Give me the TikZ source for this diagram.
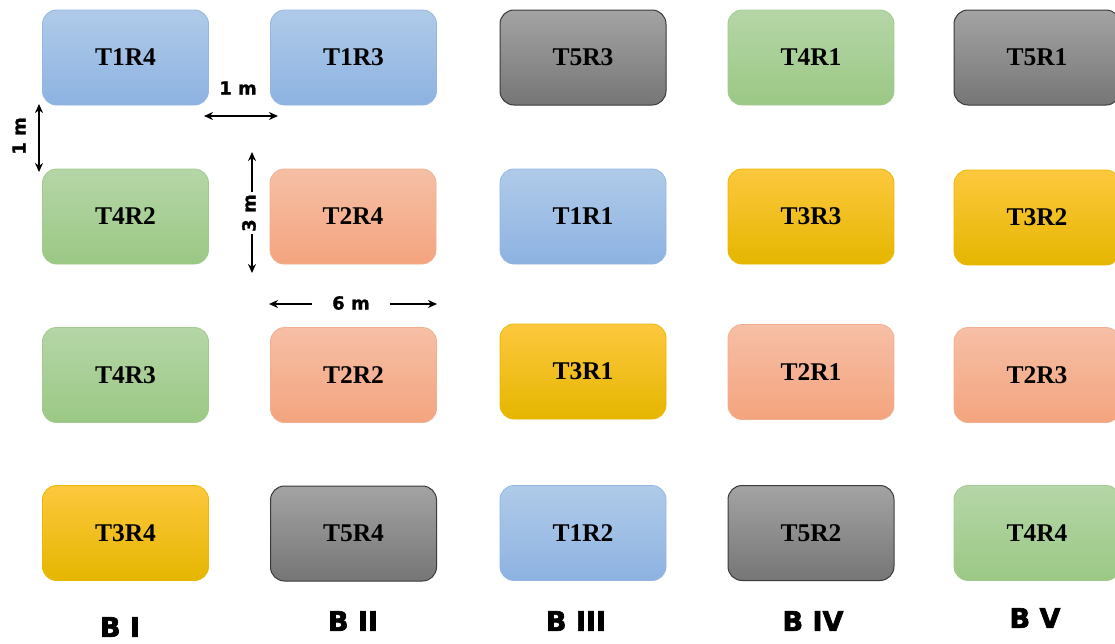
\documentclass[tikz,border=0pt]{standalone}
\usepackage{fontspec}
\setmainfont{Liberation Serif}
\newfontfamily\dimfont{DejaVu Sans}[BoldFeatures={FakeBold=1.2}]
\newfontfamily\heavyfont{DejaVu Sans}[BoldFeatures={FakeBold=2.5}]
\usetikzlibrary{arrows.meta}

\definecolor{bluetop}{HTML}{B0CBE9}
\definecolor{bluebot}{HTML}{8DB2E1}
\definecolor{blueedge}{HTML}{94B6E0}
\definecolor{greentop}{HTML}{B5D6A7}
\definecolor{greenbot}{HTML}{9BC885}
\definecolor{greenedge}{HTML}{A3C98F}
\definecolor{salmontop}{HTML}{F6BFA6}
\definecolor{salmonbot}{HTML}{F4A47E}
\definecolor{salmonedge}{HTML}{F0B090}
\definecolor{goldtop}{HTML}{FDC83E}
\definecolor{goldmid}{HTML}{FFC000}
\definecolor{goldbot}{HTML}{E5B600}
\definecolor{goldedge}{HTML}{E9B800}
\definecolor{greytop}{HTML}{A3A3A3}
\definecolor{greybot}{HTML}{767676}
\definecolor{greyedge}{HTML}{3A3A3A}

\tikzset{
  plot/.style={rounded corners=14pt, minimum width=166pt, minimum height=95pt,
    line width=0.8pt, font=\fontsize{25.5}{27}\selectfont\bfseries, inner sep=0pt},
  tblue/.style={plot, top color=bluetop, bottom color=bluebot, draw=blueedge},
  tgreen/.style={plot, top color=greentop, bottom color=greenbot, draw=greenedge},
  tsalmon/.style={plot, top color=salmontop, bottom color=salmonbot, draw=salmonedge},
  tgold/.style={plot, top color=goldtop, middle color=goldmid, bottom color=goldbot, draw=goldedge},
  tgrey/.style={plot, top color=greytop, bottom color=greybot, draw=greyedge, line width=1pt},
  dimlabel/.style={font=\dimfont\bfseries\fontsize{18}{20}\selectfont, inner sep=2pt},
  blocklabel/.style={font=\heavyfont\bfseries\fontsize{27}{30}\selectfont, inner sep=0pt},
  tip/.style={Stealth[length=9pt,width=8pt]},
  dimarrow/.style={line width=2pt, -{Stealth[length=9pt,width=8pt]}},
  dimboth/.style={line width=2pt, {Stealth[length=9pt,width=8pt]}-{Stealth[length=9pt,width=8pt]}}
}

\begin{document}
\begin{tikzpicture}[x=1pt,y=-1pt]
\useasboundingbox (0,0) rectangle (1115,643);

% Block I
\node[tblue]   (t1r4) at (125.5,57.5)  {T1R4};
\node[tgreen]  (t4r2) at (125.5,216.5) {T4R2};
\node[tgreen]  (t4r3) at (125.5,375)   {T4R3};
\node[tgold]   (t3r4) at (125.5,533)   {T3R4};

% Block II
\node[tblue]   (t1r3) at (353.5,57.5)  {T1R3};
\node[tsalmon] (t2r4) at (353,216.5)   {T2R4};
\node[tsalmon] (t2r2) at (353.5,375)   {T2R2};
\node[tgrey]   (t5r4) at (353.5,533.5) {T5R4};

% Block III
\node[tgrey]   (t5r3) at (583,57.5)    {T5R3};
\node[tblue]   (t1r1) at (583,216.5)   {T1R1};
\node[tgold]   (t3r1) at (583,371.5)   {T3R1};
\node[tblue]   (t1r2) at (583,533)     {T1R2};

% Block IV
\node[tgreen]  (t4r1) at (811,57.5)    {T4R1};
\node[tgold]   (t3r3) at (811,216.5)   {T3R3};
\node[tsalmon] (t2r1) at (811,372)     {T2R1};
\node[tgrey]   (t5r2) at (811,533)     {T5R2};

% Block V
\node[tgrey]   (t5r1) at (1037,57.5)   {T5R1};
\node[tgold]   (t3r2) at (1037,217.5)  {T3R2};
\node[tsalmon] (t2r3) at (1037,375)    {T2R3};
\node[tgreen]  (t4r4) at (1037,533)    {T4R4};

% Block labels
\node[blocklabel] (b1) at (120,627) {B I};
\node[blocklabel] (b2) at (353,621) {B II};
\node[blocklabel] (b3) at (576,621) {B III};
\node[blocklabel] (b4) at (813,621) {B IV};
\node[blocklabel] (b5) at (1035,618) {B V};

% Spacing between plots: 1 m across
\node[dimlabel] (d1h) at (238,88) {1 m};
\coordinate (h1a) at (204,116);
\coordinate (h1b) at (278,116);
\draw[dimboth] (h1a) -- (h1b);

% Spacing between plots: 1 m down
\node[dimlabel, rotate=90] (d1v) at (19,136) {1 m};
\coordinate (v1a) at (39,104);
\coordinate (v1b) at (39,172);
\draw[dimboth] (v1a) -- (v1b);

% Plot height: 3 m
\node[dimlabel, rotate=90] (d3) at (249,213) {3 m};
\coordinate (v3a) at (252,152);
\coordinate (v3b) at (252,273);
\draw[dimarrow] (d3.east -| v3a) -- (v3a);
\draw[dimarrow] (d3.west -| v3b) -- (v3b);

% Plot width: 6 m
\node[dimlabel, inner xsep=20pt] (d6) at (351,303) {6 m};
\coordinate (h6a) at (269,304);
\coordinate (h6b) at (437,304);
\draw[dimarrow] (d6.west |- h6a) -- (h6a);
\draw[dimarrow] (d6.east |- h6b) -- (h6b);
\end{tikzpicture}
\end{document}
